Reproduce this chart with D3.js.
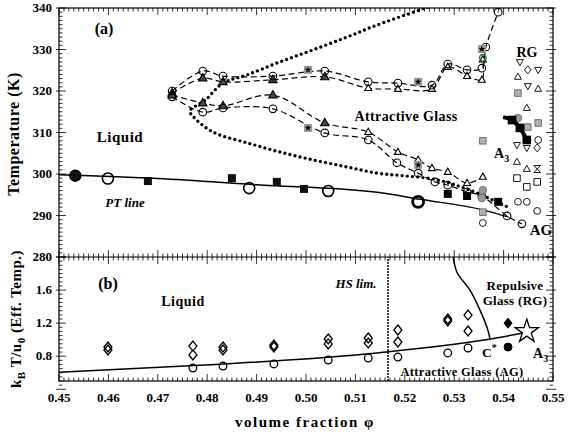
<!DOCTYPE html>
<html>
<head>
<meta charset="utf-8">
<script src="https://cdn.jsdelivr.net/npm/d3@7"></script>
<style>
  body { margin: 0; background: #fff; }
  svg text { font-family: "Liberation Serif", "Times New Roman", Times, serif; font-weight: bold; fill: #000; }
</style>
</head>
<body>
<svg id="chart" width="568" height="434" font-family="Liberation Serif, Times New Roman, serif"></svg>
<script>
// ---- data (phi, T) for panel (a) ----
const ptLine = [[0.45, 299.8], [0.47, 298.9], [0.49, 297.4], [0.5144, 295.6], [0.5231, 293.9], [0.536, 291.3], [0.541, 289.6]];
const ptBigFilled = [[0.4533, 299.6]];
const ptBigOpen = [[0.4599, 298.9], [0.4885, 296.6], [0.5045, 295.9]];
const ptThickCircle = [[0.5227, 293.3]];
const ptSquares = [[0.468, 298.3], [0.485, 299.0], [0.4941, 298.1], [0.4996, 296.4]];

const dottedCurve = [[0.5247, 340.2], [0.5144, 335.9], [0.5083, 333.0], [0.5014, 329.9], [0.4947, 327.0],
  [0.4881, 323.9], [0.4832, 321.9], [0.4796, 317.8], [0.4765, 315.2], [0.4772, 313.8], [0.4812, 310.1],
  [0.4881, 307.5], [0.4947, 305.3], [0.5014, 303.4], [0.5083, 301.7], [0.5144, 300.2], [0.5196, 299.6],
  [0.5265, 298.6], [0.5332, 296.1], [0.5409, 292.0]];

const upperCircles = [[0.4729, 320.0], [0.4791, 324.8], [0.4832, 323.6], [0.4933, 323.6], [0.5038, 324.8],
  [0.5126, 322.2], [0.5186, 321.9], [0.5255, 321.4], [0.5287, 326.5], [0.5326, 325.1], [0.5356, 325.5],
  [0.5364, 330.6], [0.5389, 339.0]];
const upperTriangles = [[0.4729, 319.5], [0.4791, 323.1], [0.4832, 322.2], [0.4933, 322.7], [0.5038, 323.4],
  [0.5126, 320.7], [0.5186, 320.5], [0.5255, 320.5], [0.5287, 325.8], [0.5326, 323.6], [0.5356, 322.7],
  [0.5358, 327.6]];
const lowerTriangles = [[0.4729, 319.0], [0.4791, 317.1], [0.4832, 316.4], [0.4933, 319.0], [0.5038, 312.3],
  [0.5126, 310.1], [0.5186, 305.3], [0.5227, 303.4], [0.5255, 301.4], [0.5287, 300.5], [0.5326, 297.8],
  [0.5358, 299.3]];
const lowerCircles = [[0.4729, 318.6], [0.4791, 314.9], [0.4832, 315.9], [0.4933, 315.7], [0.5038, 309.9],
  [0.5126, 308.2], [0.5184, 302.7], [0.5227, 300.2], [0.5261, 298.1], [0.5287, 297.3], [0.5326, 295.7],
  [0.5356, 294.7], [0.5407, 289.9], [0.5437, 288.0]];

const grayStarSquares = [[0.5004, 325.1], [0.5004, 311.1], [0.5227, 322.2], [0.5227, 302.2], [0.5356, 330.1]];
const greenCircle = [[0.5358, 328.0]];
const grayCircles = [[0.5358, 296.1], [0.5356, 294.2], [0.5429, 313.5]];
const blackSquares = [[0.5287, 295.2], [0.5326, 294.7], [0.5389, 293.3]];
const a3Branch = [[0.5399, 313.7], [0.5417, 313.0], [0.5433, 311.1], [0.5447, 308.2]];

const rgDown = [[0.5433, 327.0], [0.5470, 325.1], [0.5449, 321.2], [0.5427, 307.0], [0.5447, 306.3]];
const rgDiamond = [[0.5449, 325.1], [0.5468, 306.3]];
const rgUp = [[0.5429, 323.4], [0.5470, 320.5], [0.5447, 315.9], [0.5427, 302.9], [0.5447, 301.2]];
const rgHourglass = [[0.5468, 301.2]];
const rgGraySq = [[0.5429, 319.5], [0.5470, 312.3], [0.5449, 311.3], [0.5358, 308.0], [0.5358, 290.8]];
const rgOpenSq = [[0.5427, 299.0], [0.5447, 296.9], [0.5468, 298.1]];
const rgOpenCircle = [[0.5470, 308.2], [0.5429, 293.3], [0.5447, 293.3], [0.5468, 291.1], [0.5358, 288.2]];

// ---- data (phi, kT/u0) for panel (b) ----
const lineB = [[0.45, 0.605], [0.4785, 0.69], [0.5144, 0.84], [0.5385, 1.02], [0.5447, 1.09]];
const boundaryRG = [[0.5298, 2.0], [0.5306, 1.81], [0.5332, 1.60], [0.5352, 1.36], [0.5368, 1.12], [0.5372, 1.02]];
const hsLimit = 0.5166;
const diamondsB = [[0.4599, 0.911], [0.4599, 0.875], [0.4771, 0.923], [0.4771, 0.815], [0.4832, 0.911], [0.4832, 0.875],
  [0.4935, 0.935], [0.4935, 0.911], [0.5045, 1.008], [0.5045, 0.948], [0.5126, 1.02], [0.5126, 0.96],
  [0.5186, 1.117], [0.5186, 0.972], [0.5287, 1.25], [0.5287, 1.226], [0.5328, 1.298], [0.5328, 1.105]];
const circlesB = [[0.4771, 0.657], [0.4832, 0.681], [0.4935, 0.706], [0.5045, 0.754], [0.5126, 0.778],
  [0.5186, 0.79], [0.5287, 0.839], [0.5328, 0.899]];
const filledDiamondB = [[0.5409, 1.20]];
const filledCircleB = [[0.5409, 0.91]];
const starB = [[0.5447, 1.10]];

const xTicks = [0.45, 0.46, 0.47, 0.48, 0.49, 0.50, 0.51, 0.52, 0.53, 0.54, 0.55];
const tTicks = [280, 290, 300, 310, 320, 330, 340];
const eTicks = [0.8, 1.2, 1.6];

// ---- layout ----
const L = 59, R = 553, TOP = 8, MID = 257, BOT = 381;
const svg = d3.select('#chart');
const x = d3.scaleLinear().domain([0.45, 0.55]).range([L, R]);
const yT = d3.scaleLinear().domain([280, 340]).range([MID, TOP]);
const yE = d3.scaleLinear().domain([0.5, 2.0]).range([BOT, MID]);

const defs = svg.append('defs');
defs.append('clipPath').attr('id', 'clipA').append('rect').attr('x', L).attr('y', TOP).attr('width', R - L).attr('height', MID - TOP);
defs.append('clipPath').attr('id', 'clipB').append('rect').attr('x', L).attr('y', MID).attr('width', R - L).attr('height', BOT - MID);

// ticks
function hTicks(y0, dir) {
  const minor = d3.range(0, 101).map(i => 0.45 + i * 0.001);
  svg.append('g').selectAll('line').data(minor).join('line')
    .attr('x1', d => x(d)).attr('x2', d => x(d))
    .attr('y1', y0).attr('y2', (d, i) => y0 + dir * (i % 10 === 0 ? 7 : 3.5))
    .attr('stroke', '#000').attr('stroke-width', 0.8);
}
function vTicks(scale, lo, hi, step, majorEvery) {
  const n = Math.round((hi - lo) / step);
  const vals = d3.range(0, n + 1).map(i => lo + i * step);
  [L, R].forEach((xe, k) => {
    const dir = k === 0 ? 1 : -1;
    svg.append('g').selectAll('line').data(vals).join('line')
      .attr('y1', d => scale(d)).attr('y2', d => scale(d))
      .attr('x1', (d, i) => xe - (i % majorEvery === 0 ? dir * 3 : 0))
      .attr('x2', (d, i) => xe + dir * (i % majorEvery === 0 ? 7 : 3.5))
      .attr('stroke', '#000').attr('stroke-width', 0.8);
  });
}
hTicks(TOP, 1); hTicks(MID, -1); hTicks(MID, 1); hTicks(BOT, -1);
vTicks(yT, 280, 340, 1, 10);
vTicks(yE, 0.4, 2.0, 0.05, 8);

svg.append('rect').attr('x', L).attr('y', TOP).attr('width', R - L).attr('height', BOT - TOP)
  .attr('fill', 'none').attr('stroke', '#000').attr('stroke-width', 1.2);
svg.append('line').attr('x1', L).attr('x2', R).attr('y1', MID).attr('y2', MID).attr('stroke', '#000').attr('stroke-width', 1.2);

// tick labels
svg.append('g').selectAll('text').data(tTicks).join('text')
  .attr('x', L - 7).attr('y', d => yT(d) + 4).attr('text-anchor', 'end').attr('font-size', 13).text(d => d);
svg.append('g').selectAll('text').data(eTicks).join('text')
  .attr('x', L - 7).attr('y', d => yE(d) + 4).attr('text-anchor', 'end').attr('font-size', 13).text(d => d.toFixed(1));
svg.append('g').selectAll('text').data(xTicks).join('text')
  .attr('x', d => x(d)).attr('y', BOT + 21).attr('text-anchor', 'middle').attr('font-size', 13).text(d => d.toFixed(2));

// axis titles
svg.append('text').attr('transform', 'translate(19,134) rotate(-90)').attr('text-anchor', 'middle')
  .attr('font-size', 16).attr('letter-spacing', 0.5).text('Temperature (K)');
const yt2 = svg.append('text').attr('transform', 'translate(21,319) rotate(-90)').attr('text-anchor', 'middle')
  .attr('font-size', 15).attr('letter-spacing', 0.5);
yt2.append('tspan').text('k');
yt2.append('tspan').attr('font-size', 11).attr('dy', 4).text('B');
yt2.append('tspan').attr('dy', -4).text(' T/u');
yt2.append('tspan').attr('font-size', 11).attr('dy', 4).text('0');
yt2.append('tspan').attr('dy', -4).text(' (Eff. Temp.)');
svg.append('text').attr('x', 305).attr('y', 427).attr('text-anchor', 'middle').attr('font-size', 15)
  .attr('letter-spacing', 1.5).text('volume fraction \u03c6');

// ---- shapes ----
const circ = r => d3.symbol(d3.symbolCircle, Math.PI * r * r)();
const triUp = 'M0,-4.6L4.2,2.8L-4.2,2.8Z';
const triUpS = 'M0,-3.8L3.5,2.4L-3.5,2.4Z';
const triDownS = 'M0,3.8L3.5,-2.4L-3.5,-2.4Z';
const hourglass = 'M-3.3,-3.5L3.3,-3.5L-3.3,3.5L3.3,3.5Z';
const sq = s => `M${-s},${-s}h${2 * s}v${2 * s}h${-2 * s}Z`;
const dia = 'M0,-5L4,0L0,5L-4,0Z';
const diaS = 'M0,-4L3.3,0L0,4L-3.3,0Z';

function mark(g, pts, ys, path, fill, stroke, sw) {
  g.append('g').selectAll('path').data(pts).join('path')
    .attr('transform', d => `translate(${x(d[0])},${ys(d[1])})`)
    .attr('d', path).attr('fill', fill).attr('stroke', stroke).attr('stroke-width', sw);
}
const lineT = d3.line().x(d => x(d[0])).y(d => yT(d[1]));
const lineE = d3.line().x(d => x(d[0])).y(d => yE(d[1]));

// ---- panel (a) ----
const ga = svg.append('g').attr('clip-path', 'url(#clipA)');
ga.append('path').attr('d', lineT.curve(d3.curveCatmullRom)(dottedCurve)).attr('fill', 'none')
  .attr('stroke', '#000').attr('stroke-width', 3.4).attr('stroke-linecap', 'round').attr('stroke-dasharray', '0 5.2');
ga.append('path').attr('d', d3.line().x(d => x(d[0])).y(d => yT(d[1])).curve(d3.curveMonotoneX)(ptLine)).attr('fill', 'none')
  .attr('stroke', '#000').attr('stroke-width', 1.5);

[upperCircles, upperTriangles, lowerTriangles, lowerCircles].forEach(s => {
  ga.append('path').attr('d', d3.line().x(d => x(d[0])).y(d => yT(d[1])).curve(d3.curveCatmullRom)(s))
    .attr('fill', 'none').attr('stroke', '#000').attr('stroke-width', 1.2).attr('stroke-dasharray', '6,3.5');
});

mark(ga, upperTriangles.filter(d => d[0] < 0.51), yT, triUp, '#444', '#000', 1.1);
mark(ga, upperTriangles.filter(d => d[0] >= 0.51), yT, triUpS, '#fff', '#000', 1.1);
mark(ga, lowerTriangles.filter(d => d[0] < 0.51), yT, triUp, '#444', '#000', 1.1);
mark(ga, lowerTriangles.filter(d => d[0] >= 0.51), yT, triUpS, '#fff', '#000', 1.1);
mark(ga, upperCircles, yT, circ(3.8), 'none', '#000', 1.1);
mark(ga, lowerCircles, yT, circ(3.8), 'none', '#000', 1.1);

// gray squares with star
mark(ga, grayStarSquares, yT, sq(4), '#999', 'none', 0);
mark(ga, grayStarSquares, yT, d3.symbol(d3.symbolStar, 14)(), '#000', 'none', 0);
mark(ga, greenCircle, yT, circ(3.3), 'none', '#1a7a2a', 1.3);

// right side scatter
mark(ga, rgDown, yT, triDownS, 'none', '#000', 0.9);
mark(ga, rgUp, yT, triUpS, 'none', '#000', 0.9);
mark(ga, rgHourglass, yT, hourglass, 'none', '#000', 0.9);
mark(ga, rgDiamond, yT, diaS, 'none', '#000', 0.9);
mark(ga, rgGraySq, yT, sq(3.3), '#b0b0b0', '#555', 0.8);
mark(ga, rgOpenSq, yT, sq(3.3), 'none', '#000', 0.9);
mark(ga, rgOpenCircle, yT, circ(3.4), 'none', '#000', 0.9);
mark(ga, grayCircles, yT, circ(3.8), '#999', '#666', 0.8);
mark(ga, blackSquares, yT, sq(4), '#000', 'none', 0);
ga.append('path').attr('d', lineT.curve(d3.curveCatmullRom)(a3Branch)).attr('fill', 'none')
  .attr('stroke', '#000').attr('stroke-width', 4);
mark(ga, a3Branch.slice(1), yT, sq(4.3), '#000', 'none', 0);

// PT line markers
mark(ga, ptBigFilled, yT, circ(5.5), '#111', '#000', 1.5);
mark(ga, ptBigOpen, yT, circ(5.5), 'none', '#000', 1.6);
mark(ga, ptThickCircle, yT, circ(5.5), 'none', '#000', 2.8);
mark(ga, ptSquares, yT, sq(4), '#111', 'none', 0);

// labels (a)
svg.append('text').attr('x', 104).attr('y', 34).attr('text-anchor', 'middle').attr('font-size', 16).text('(a)');
svg.append('text').attr('x', 120).attr('y', 142).attr('text-anchor', 'middle').attr('font-size', 15).attr('letter-spacing', 0.5).text('Liquid');
svg.append('text').attr('x', 125).attr('y', 207).attr('text-anchor', 'middle').attr('font-size', 13)
  .attr('font-style', 'italic').text('PT line');
svg.append('text').attr('x', 406).attr('y', 121).attr('text-anchor', 'middle').attr('font-size', 14).attr('letter-spacing', 0.4).text('Attractive Glass');
svg.append('text').attr('x', 527).attr('y', 57).attr('text-anchor', 'middle').attr('font-size', 14).text('RG');
const a3a = svg.append('text').attr('x', 494).attr('y', 158).attr('font-size', 14);
a3a.append('tspan').text('A');
a3a.append('tspan').attr('font-size', 10).attr('dy', 4).text('3');
svg.append('text').attr('x', 541).attr('y', 235).attr('text-anchor', 'middle').attr('font-size', 15).text('AG');

// ---- panel (b) ----
const gb = svg.append('g').attr('clip-path', 'url(#clipB)');
gb.append('line').attr('x1', x(hsLimit)).attr('x2', x(hsLimit)).attr('y1', yE(2.0)).attr('y2', yE(0.5))
  .attr('stroke', '#000').attr('stroke-width', 2).attr('stroke-linecap', 'round').attr('stroke-dasharray', '0 3');
gb.append('path').attr('d', lineE.curve(d3.curveMonotoneX)(lineB)).attr('fill', 'none').attr('stroke', '#000').attr('stroke-width', 1.5);
gb.append('path').attr('d', d3.line().x(d => x(d[0])).y(d => yE(d[1])).curve(d3.curveCatmullRom)(boundaryRG))
  .attr('fill', 'none').attr('stroke', '#000').attr('stroke-width', 1.5);

mark(gb, diamondsB, yE, dia, 'none', '#000', 1.3);
mark(gb, circlesB, yE, circ(3.8), 'none', '#000', 1.3);
mark(gb, filledDiamondB, yE, dia, '#000', '#000', 1);
mark(gb, filledCircleB, yE, circ(4), '#000', '#000', 1);
mark(gb, starB, yE, d3.symbol(d3.symbolStar, 170)(), '#fff', '#000', 1.3);

svg.append('text').attr('x', 108).attr('y', 289).attr('text-anchor', 'middle').attr('font-size', 16).text('(b)');
svg.append('text').attr('x', 183).attr('y', 306).attr('text-anchor', 'middle').attr('font-size', 14).attr('letter-spacing', 0.5).text('Liquid');
svg.append('text').attr('x', 356).attr('y', 288).attr('text-anchor', 'middle').attr('font-size', 13)
  .attr('font-style', 'italic').text('HS lim.');
svg.append('text').attr('x', 515).attr('y', 290).attr('text-anchor', 'middle').attr('font-size', 13).attr('letter-spacing', 0.3).text('Repulsive');
svg.append('text').attr('x', 515).attr('y', 305).attr('text-anchor', 'middle').attr('font-size', 13).attr('letter-spacing', 0.3).text('Glass (RG)');
svg.append('text').attr('x', 462).attr('y', 376).attr('text-anchor', 'middle').attr('font-size', 12.5).attr('letter-spacing', 0.3).text('Attractive Glass (AG)');
const cs = svg.append('text').attr('x', 482).attr('y', 357).attr('font-size', 13.5);
cs.append('tspan').text('C');
cs.append('tspan').attr('font-size', 10).attr('dy', -6).text('*');
const a3b = svg.append('text').attr('x', 533).attr('y', 358).attr('font-size', 14);
a3b.append('tspan').text('A');
a3b.append('tspan').attr('font-size', 10).attr('dy', 4).text('3');
</script>
</body>
</html>
